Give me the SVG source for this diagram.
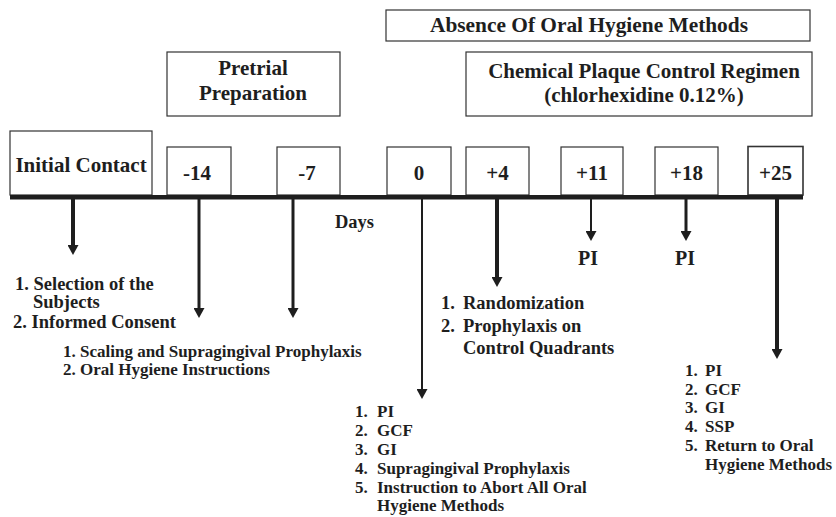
<svg xmlns="http://www.w3.org/2000/svg" width="836" height="517" viewBox="0 0 836 517">
<defs>
<marker id="ah" viewBox="0 0 10 10" refX="1" refY="5" markerWidth="10" markerHeight="11" markerUnits="userSpaceOnUse" preserveAspectRatio="none" orient="auto">
<path d="M0,0 L10,5 L0,10 z" fill="#1e1e1e"/>
</marker>
</defs>
<style>
text{font-family:"Liberation Serif","Times New Roman",serif;font-weight:bold;fill:#1e1e1e}
.box{fill:#fff;stroke:#333;stroke-width:1.2}
.h{font-size:21px}
.m{text-anchor:middle}
.l18{font-size:18.5px}
.l17{font-size:17px}
.pi{font-size:20px}
.ar{stroke:#1e1e1e;fill:none;marker-end:url(#ah)}
.thick{stroke-width:4}
.med{stroke-width:3}
.thin{stroke-width:2}
</style>
<rect width="836" height="517" fill="#fff"/>

<g id="absence">
<rect class="box" x="386" y="10" width="424" height="31"/>
<text class="h" x="430" y="32" textLength="318" lengthAdjust="spacingAndGlyphs">Absence Of Oral Hygiene Methods</text>
</g>
<g id="chemical">
<rect class="box" x="466" y="52" width="346" height="64"/>
<text class="h m" x="644" y="78">Chemical Plaque Control Regimen</text>
<text class="h m" x="644" y="102">(chlorhexidine 0.12%)</text>
</g>
<g id="pretrial">
<rect class="box" x="167" y="52" width="173" height="64"/>
<text class="h m" x="253" y="75">Pretrial</text>
<text class="h m" x="253" y="100">Preparation</text>
</g>
<g id="initial">
<rect class="box" x="10" y="131" width="142" height="64"/>
<text class="h m" x="81" y="172">Initial Contact</text>
</g>
<g id="d-14">
<rect class="box" x="167" y="147" width="64" height="48"/>
<text class="h m" x="197" y="180">-14</text>
</g>
<g id="d-7">
<rect class="box" x="277" y="147" width="63" height="48"/>
<text class="h m" x="307" y="180">-7</text>
</g>
<g id="d0">
<rect class="box" x="387" y="147" width="64" height="48"/>
<text class="h m" x="419" y="180">0</text>
</g>
<g id="d4">
<rect class="box" x="466" y="147" width="63" height="48"/>
<text class="h m" x="497.5" y="180">+4</text>
</g>
<g id="d11">
<rect class="box" x="561" y="147" width="62" height="48"/>
<text class="h m" x="592" y="180">+11</text>
</g>
<g id="d18">
<rect class="box" x="655" y="147" width="63" height="48"/>
<text class="h m" x="686.5" y="180">+18</text>
</g>
<g id="d25">
<rect class="box" x="748" y="146.5" width="55" height="48.5" style="stroke-width:1.6"/>
<text class="h m" x="775.5" y="180">+25</text>
</g>

<g id="timeline">
<line x1="10" y1="197.3" x2="803" y2="197.3" stroke="#1e1e1e" stroke-width="4.6"/>
<text class="l18" x="335" y="228">Days</text>
</g>

<g id="connectors">
<line class="ar thick" x1="73" y1="199" x2="73" y2="246"/>
<line class="ar med" x1="199" y1="199" x2="199" y2="309"/>
<line class="ar med" x1="293" y1="199" x2="293" y2="309"/>
<line class="ar thin" x1="422" y1="199" x2="422" y2="390"/>
<line class="ar thick" x1="497" y1="199" x2="497" y2="278"/>
<line class="ar thin" x1="591" y1="199" x2="591" y2="232"/>
<line class="ar med" x1="686" y1="199" x2="686" y2="232"/>
<line class="ar thick" x1="777" y1="199" x2="777" y2="350"/>
</g>

<g id="list-initial" class="l18">
<text class="l18" x="15" y="290">1. Selection of the</text>
<text class="l18" x="33" y="308">Subjects</text>
<text class="l18" x="13" y="328">2. Informed Consent</text>
</g>
<g id="list-pretrial">
<text class="l17" x="63" y="357">1. Scaling and Supragingival Prophylaxis</text>
<text class="l17" x="63" y="375">2. Oral Hygiene Instructions</text>
</g>
<g id="list-day0">
<text class="l17" x="355" y="417">1.</text><text class="l17" x="377" y="417">PI</text>
<text class="l17" x="355" y="436">2.</text><text class="l17" x="377" y="436">GCF</text>
<text class="l17" x="355" y="455">3.</text><text class="l17" x="377" y="455">GI</text>
<text class="l17" x="355" y="474">4.</text><text class="l17" x="377" y="474">Supragingival Prophylaxis</text>
<text class="l17" x="355" y="493">5.</text><text class="l17" x="377" y="493">Instruction to Abort All Oral</text>
<text class="l17" x="377" y="511">Hygiene Methods</text>
</g>
<g id="list-day4">
<text class="l18" x="441" y="309">1.</text><text class="l18" x="463" y="309">Randomization</text>
<text class="l18" x="441" y="332">2.</text><text class="l18" x="463" y="332">Prophylaxis on</text>
<text class="l18" x="463" y="354">Control Quadrants</text>
</g>
<g id="pi11">
<text class="pi" x="578" y="265">PI</text>
</g>
<g id="pi18">
<text class="pi" x="675" y="265">PI</text>
</g>
<g id="list-day25">
<text class="l17" x="685" y="376">1.</text><text class="l17" x="705" y="376">PI</text>
<text class="l17" x="685" y="395">2.</text><text class="l17" x="705" y="395">GCF</text>
<text class="l17" x="685" y="413">3.</text><text class="l17" x="705" y="413">GI</text>
<text class="l17" x="685" y="432">4.</text><text class="l17" x="705" y="432">SSP</text>
<text class="l17" x="685" y="451">5.</text><text class="l17" x="705" y="451">Return to Oral</text>
<text class="l17" x="705" y="470">Hygiene Methods</text>
</g>
</svg>
